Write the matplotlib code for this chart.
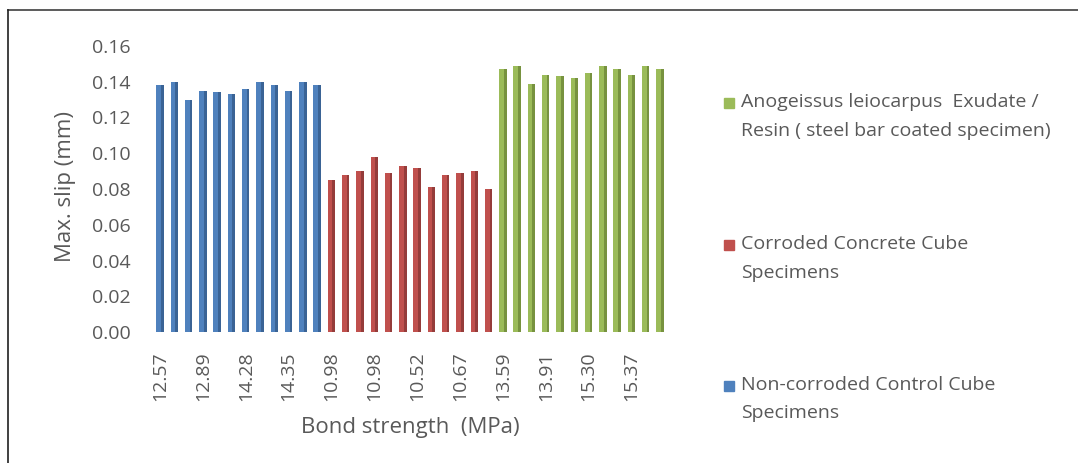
import numpy as np
import matplotlib
matplotlib.use("Agg")
import matplotlib.pyplot as plt
from matplotlib.lines import Line2D

# Max. slip (mm) for each specimen group
control_slip = [0.138, 0.140, 0.130, 0.135, 0.134, 0.133, 0.136, 0.140, 0.138, 0.135, 0.140, 0.138]
corroded_slip = [0.085, 0.088, 0.090, 0.098, 0.089, 0.093, 0.092, 0.081, 0.088, 0.089, 0.090, 0.080]
coated_slip = [0.147, 0.149, 0.139, 0.144, 0.143, 0.142, 0.145, 0.149, 0.147, 0.144, 0.149, 0.147]

# Bond strength labels shown on the category axis (every third specimen)
tick_labels = ["12.57", "12.89", "14.28", "14.35",
               "10.98", "10.98", "10.52", "10.67",
               "13.59", "13.91", "15.30", "15.37"]

series_names = [
    "Non-corroded Control Cube\nSpecimens",
    "Corroded Concrete Cube\nSpecimens",
    "Anogeissus leiocarpus  Exudate /\nResin ( steel bar coated specimen)",
]
colors = ["#4F81BD", "#C0504D", "#9BBB59"]
dark_colors = ["#3A6395", "#953C3A", "#77923F"]

plt.rcParams["font.family"] = ["Open Sans", "DejaVu Sans"]
text_color = "#595959"

fig = plt.figure(figsize=(10.78, 4.63), dpi=100)
W, H = 1078, 463
ax = fig.add_axes([152.9 / W, 1 - 332 / H, (667.1 - 152.9) / W, (332 - 46) / H])

groups = [control_slip, corroded_slip, coated_slip]
bar_w = 0.52
start = 0
for vals, c, dc in zip(groups, colors, dark_colors):
    x = np.arange(start, start + len(vals))
    ax.bar(x, vals, width=bar_w, color=c, edgecolor="none", zorder=2)
    # shaded right face of each column
    ax.bar(x + bar_w * 0.32, vals, width=bar_w * 0.36, color=dc, edgecolor="none", zorder=3)
    start += len(vals)

n = start
ax.set_xlim(-0.5, n - 0.5)
ax.set_ylim(0, 0.16)
yt = np.arange(0, 0.161, 0.02)
ax.set_yticks(yt)
ax.set_yticklabels([f"{v:.2f}" for v in yt])
ax.set_xticks(np.arange(0, n, 3))
ax.set_xticklabels(tick_labels, rotation=90)
ax.tick_params(axis="both", length=0, labelsize=14, colors=text_color)
ax.tick_params(axis="y", pad=16)
ax.tick_params(axis="x", pad=14)
for s in ax.spines.values():
    s.set_visible(False)

# axis titles
fig.text(65 / W, 1 - 187 / H, "Max. slip (mm)", rotation=90, fontsize=16,
         color=text_color, ha="center", va="center")
fig.text(410 / W, 1 - 428 / H, "Bond strength  (MPa)", fontsize=16,
         color=text_color, ha="center", va="center")

# legend entries, listed top to bottom in reverse series order
legend_y = [103, 245, 386]
for name, c, yy in zip(series_names[::-1], colors[::-1], legend_y):
    fy = 1 - yy / H
    fig.patches.append(plt.Rectangle((724 / W, fy - 5 / H), 10 / W, 10 / H,
                                     transform=fig.transFigure, color=c))
    fig.text(741 / W, fy + 10 / H, name, fontsize=14, color=text_color,
             va="top", ha="left", linespacing=1.75)

# outer frame (top and left edges)
fig.add_artist(Line2D([8 / W, 1.0], [1 - 10 / H, 1 - 10 / H], transform=fig.transFigure,
                      color="#404040", lw=1.2))
fig.add_artist(Line2D([8 / W, 8 / W], [0, 1 - 10 / H], transform=fig.transFigure,
                      color="#202020", lw=1.2))

fig.savefig("out.png", dpi=100)
